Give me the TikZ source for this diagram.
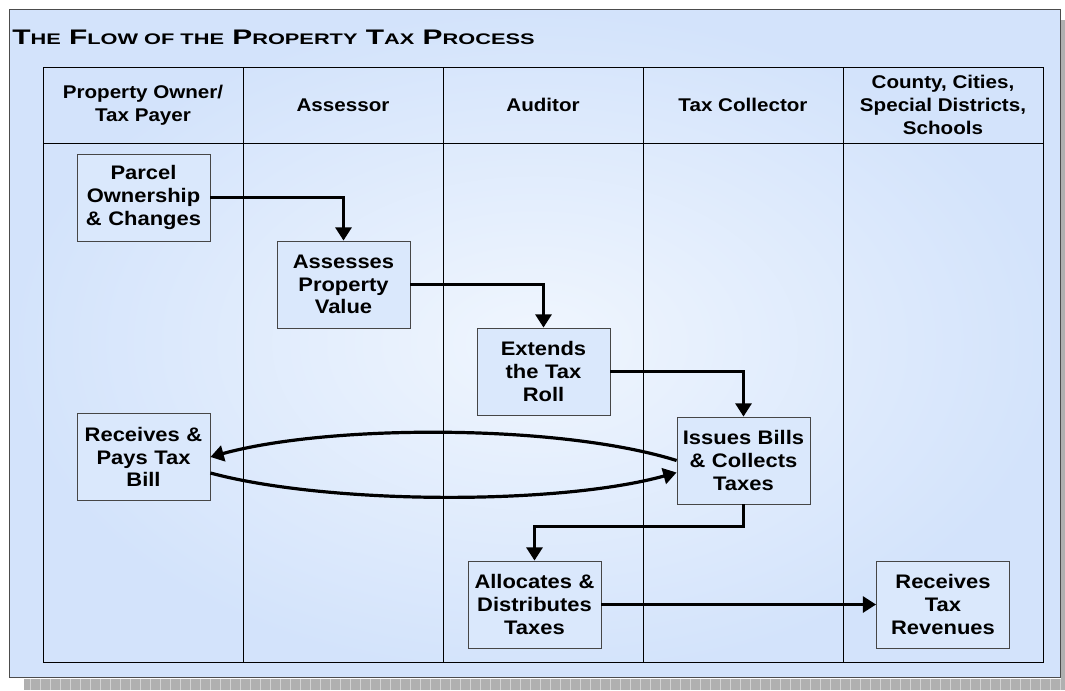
\documentclass[tikz,border=0pt]{standalone}
\usepackage{fontspec}
\setmainfont{Liberation Sans}[FakeStretch=1.12]
\newfontfamily\titlefont{Liberation Sans}[FakeStretch=1.42]
\usetikzlibrary{arrows.meta,calc}

\definecolor{panelblue}{RGB}{211,227,251}
\definecolor{panellight}{RGB}{240,246,254}
\definecolor{boxblue}{RGB}{218,232,252}
\definecolor{boxline}{RGB}{70,70,70}

\newcommand{\smc}[1]{{\fontsize{11.5pt}{13pt}\selectfont #1}}

\tikzset{
  procbox/.style={draw=boxline, fill=boxblue, line width=0.6pt,
    minimum width=99.75pt, minimum height=65.25pt, inner sep=0pt,
    text width=96pt, align=center,
    font=\bfseries\fontsize{14.7pt}{17pt}\selectfont},
  lanehead/.style={align=center, font=\bfseries\fontsize{13.8pt}{17.25pt}\selectfont},
  flow/.style={line width=2.4pt, -{Triangle[length=10pt,width=12pt]}}
}

\begin{document}
\begin{tikzpicture}[x=0.75pt,y=-0.75pt]
\useasboundingbox (0,0) rectangle (1065,690);

% Shadow of the panel
\fill[gray!62] (24,679) rectangle (1065,690);
\fill[gray!62] (1061,20) rectangle (1065,690);
\foreach \x in {30,40,...,1060}
  \draw[gray!35, line width=0.4pt] (\x,679) -- (\x,690);

% Panel
\draw[gray!60!black, line width=0.6pt, inner color=panellight, outer color=panelblue]
  (9,9) rectangle (1060,677);

% Title
\node[anchor=base west, inner sep=0pt, font=\titlefont\bfseries\fontsize{15.8pt}{17pt}\selectfont] (title) at (12,44)
  {T\smc{HE} F\smc{LOW OF THE} P\smc{ROPERTY} T\smc{AX} P\smc{ROCESS}};

% Swim lanes
\draw[line width=0.75pt] (43,67) rectangle (1043,662);
\draw[line width=0.75pt] (43,143) -- (1043,143);
\draw[line width=0.75pt] (243,67) -- (243,662);
\draw[line width=0.75pt] (443,67) -- (443,662);
\draw[line width=0.75pt] (643,67) -- (643,662);
\draw[line width=0.75pt] (843,67) -- (843,662);

\node[lanehead] (owner) at (143,105) {Property Owner/\\Tax Payer};
\node[lanehead] (assessor) at (343,105) {Assessor};
\node[lanehead] (auditor) at (543,105) {Auditor};
\node[lanehead] (collector) at (743,105) {Tax Collector};
\node[lanehead] (county) at (943,105) {County, Cities,\\Special Districts,\\Schools};

% Process steps
\node[procbox] (parcel) at (143.5,197.5) {Parcel\\Ownership\\\& Changes};
\node[procbox] (assess) at (343.5,284.5) {Assesses\\Property\\Value};
\node[procbox] (extend) at (543.5,371.5) {Extends\\the Tax\\Roll};
\node[procbox] (issue) at (743.5,460.5) {Issues Bills\\\& Collects\\Taxes};
\node[procbox] (pays) at (143.5,457) {Receives \&\\Pays Tax\\Bill};
\node[procbox] (alloc) at (534.5,604.5) {Allocates \&\\Distributes\\Taxes};
\node[procbox] (revenue) at (943,604.5) {Receives\\Tax\\Revenues};

% Connectors
\draw[flow] (parcel.east) -| (assess.north);
\draw[flow] (assess.east) -| (extend.north);
\draw[flow] (extend.east) -| (issue.north);
\draw[flow] (issue.west) .. controls (560,424) and (330,424) .. (pays.east);
\draw[flow] ($(pays.east)+(0,16)$) .. controls (330,505) and (560,505) .. ($(issue.west)+(0,12)$);
\draw[flow] (issue.south) -- ++(0,22) -| (alloc.north);
\draw[flow] (alloc.east) -- (revenue.west);
\end{tikzpicture}
\end{document}
